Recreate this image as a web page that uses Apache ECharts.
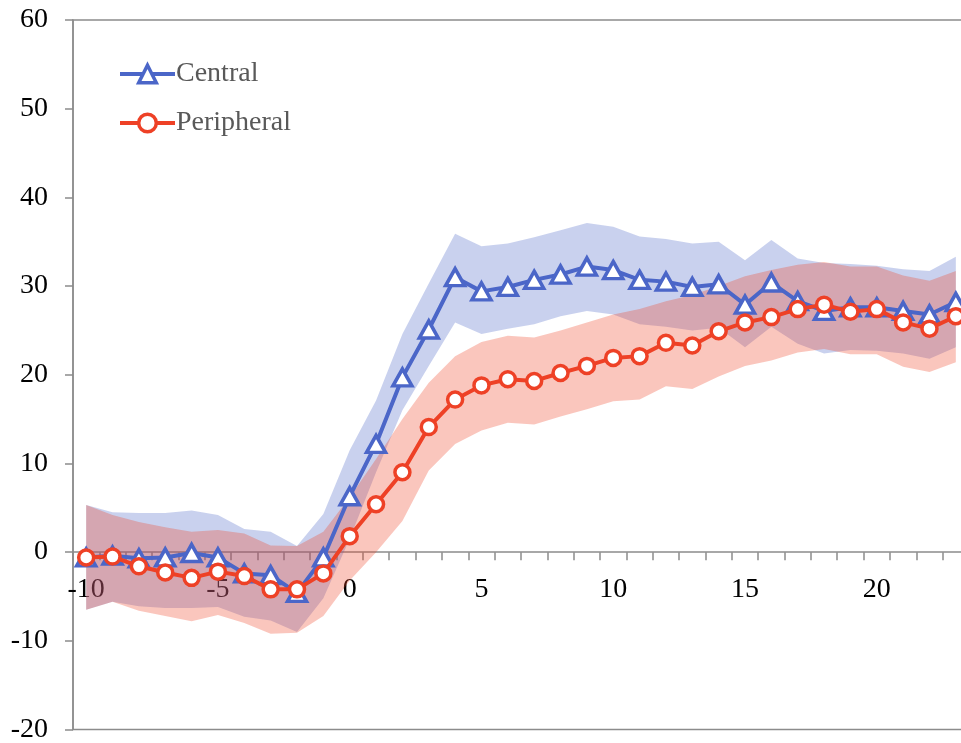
<!DOCTYPE html>
<html>
<head>
<meta charset="utf-8">
<script src="https://cdn.jsdelivr.net/npm/echarts@6/dist/echarts.min.js"></script>
<style>
html,body{margin:0;padding:0;background:#fff;}
#chart{width:961px;height:743px;}
</style>
</head>
<body>
<div id="chart"></div>
<script>
var categories = [-10,-9,-8,-7,-6,-5,-4,-3,-2,-1,0,1,2,3,4,5,6,7,8,9,10,11,12,13,14,15,16,17,18,19,20,21,22,23];
var centralMean = [-0.6,-0.4,-0.7,-0.6,-0.1,-0.6,-2.4,-2.6,-4.6,-0.6,6.3,12.2,19.7,25.1,31.0,29.4,29.9,30.7,31.3,32.2,31.8,30.7,30.5,29.9,30.2,27.9,30.4,28.3,27.2,27.6,27.6,27.2,26.8,28.2];
var centralUpper = [5.3,4.5,4.4,4.4,4.7,4.2,2.6,2.3,0.7,4.3,11.5,17.1,24.6,30.3,35.9,34.5,34.8,35.5,36.3,37.1,36.7,35.6,35.3,34.8,35.0,32.9,35.2,33.1,32.6,32.5,32.3,31.9,31.7,33.3];
var centralLower = [-6.5,-5.6,-6.1,-6.3,-6.3,-6.2,-7.3,-7.7,-9.0,-5.2,1.5,9.0,16.0,21.0,25.9,24.6,25.2,25.7,26.6,27.2,26.8,25.7,25.4,25.0,25.3,23.1,25.4,23.5,22.4,22.8,22.7,22.4,21.8,23.1];
var peripheralMean = [-0.6,-0.5,-1.6,-2.3,-2.9,-2.2,-2.7,-4.2,-4.2,-2.4,1.8,5.4,9.0,14.1,17.2,18.8,19.5,19.3,20.2,21.0,21.9,22.1,23.6,23.3,24.9,25.9,26.5,27.4,27.9,27.1,27.4,25.9,25.2,26.6];
var peripheralUpper = [5.3,4.2,3.4,2.8,2.3,2.5,2.1,0.75,0.7,2.3,6.2,10.5,15.0,19.1,22.1,23.7,24.4,24.2,25.0,25.9,26.8,27.4,28.3,29.0,30.0,31.1,31.8,32.4,32.7,32.2,32.2,31.2,30.6,31.7];
var peripheralLower = [-6.5,-5.6,-6.6,-7.2,-7.8,-7.1,-8.0,-9.2,-9.1,-7.2,-3.2,0.0,3.5,9.2,12.2,13.7,14.6,14.4,15.3,16.1,17.0,17.2,18.7,18.4,19.8,21.0,21.6,22.5,22.9,22.3,22.3,20.9,20.3,21.4];
var yTicks = [-20,-10,0,10,20,30,40,50,60];

var BLUE = '#4B66C8', RED = '#EE4126';
var FONT = '"Liberation Serif", "Times New Roman", serif';
var GRID_TOP = 20, GRID_BOTTOM = 13.5, H = 743;
var plotH = H - GRID_TOP - GRID_BOTTOM;
var yMin = yTicks[0], yMax = yTicks[yTicks.length-1];
var zeroOffset = -plotH * (0 - yMin) / (yMax - yMin);

function diff(a, b){ return a.map(function(v,i){ return +(v - b[i]).toFixed(2); }); }

var chart = echarts.init(document.getElementById('chart'), null, {renderer:'canvas'});
var bandBase = {type:'line', symbol:'none', silent:true, lineStyle:{opacity:0, width:0}, stackStrategy:'all', z:1};
chart.setOption({
  animation:false,
  grid:{left:73, top:GRID_TOP, right:-8, bottom:GRID_BOTTOM, show:true, borderColor:'#8c8c8c', borderWidth:1.5, containLabel:false, outerBoundsMode:'none'},
  legend:{
    data:['Central','Peripheral'], orient:'vertical', left:113, top:55,
    itemWidth:55, itemHeight:22, itemGap:21,
    lineStyle:{width:4},
    itemStyle:{borderWidth:3.5},
    textStyle:{fontFamily:FONT, fontSize:28, color:'#595959', padding:[0,0,0,-4]}
  },
  xAxis:{
    type:'category', data:categories, boundaryGap:true, position:'bottom', offset:zeroOffset,
    axisLine:{onZero:false, lineStyle:{color:'#8c8c8c', width:1.5}},
    axisTick:{show:true, interval:0, length:8, lineStyle:{color:'#8c8c8c', width:1.5}},
    axisLabel:{interval:4, margin:24, fontFamily:FONT, fontSize:28, color:'#000'},
    splitLine:{show:false}
  },
  yAxis:{
    type:'value', min:yMin, max:yMax, interval:10,
    axisLine:{show:true, lineStyle:{color:'#8c8c8c', width:1.5}},
    axisTick:{show:true, length:8, lineStyle:{color:'#8c8c8c', width:1.5}},
    axisLabel:{margin:25, fontFamily:FONT, fontSize:28, color:'#000'},
    splitLine:{show:false}
  },
  series:[
    Object.assign({}, bandBase, {name:'cLow', stack:'c', data:centralLower}),
    Object.assign({}, bandBase, {name:'cBand', stack:'c', data:diff(centralUpper, centralLower), areaStyle:{color:'rgba(75,102,200,0.3)', opacity:1}}),
    Object.assign({}, bandBase, {name:'pLow', stack:'p', data:peripheralLower}),
    Object.assign({}, bandBase, {name:'pBand', stack:'p', data:diff(peripheralUpper, peripheralLower), areaStyle:{color:'rgba(238,65,38,0.3)', opacity:1}}),
    {name:'Central', type:'line', data:centralMean, symbol:'triangle', symbolSize:[19,17], z:3,
     lineStyle:{color:BLUE, width:4}, itemStyle:{color:'#fff', borderColor:BLUE, borderWidth:3.5}},
    {name:'Peripheral', type:'line', data:peripheralMean, symbol:'circle', symbolSize:15, z:4,
     lineStyle:{color:RED, width:4}, itemStyle:{color:'#fff', borderColor:RED, borderWidth:3.5}}
  ]
});
</script>
</body>
</html>
